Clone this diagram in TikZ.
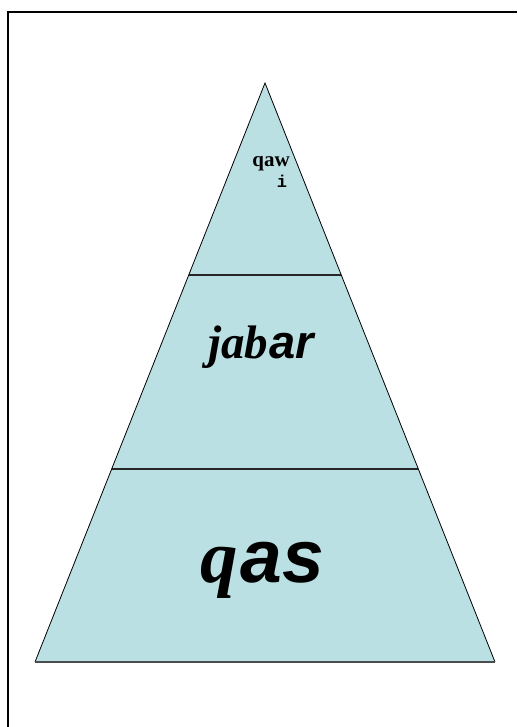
\documentclass[tikz,border=0pt]{standalone}
\usepackage{fontspec}
\setmainfont{Liberation Serif}
\newfontfamily\sansf{Liberation Sans}
\newfontfamily\monof{Liberation Mono}
\definecolor{pyr}{HTML}{BBE0E3}
\tikzset{
  frameline/.style={line width=2pt, black},
  divider/.style={line width=1.6pt, black!85},
  edge/.style={line width=0.8pt, black},
  baseedge/.style={line width=1.4pt, black!70},
  lbl/.style={anchor=base, inner sep=0pt}
}
\begin{document}
\begin{tikzpicture}[x=1pt,y=-1pt]
\useasboundingbox (0,0) rectangle (517,727);
\draw[frameline] (7.5,727) -- (7.5,12.5) -- (517,12.5);
\coordinate (A) at (265,83);
\coordinate (BL) at (35,662);
\coordinate (BR) at (495,662);
\coordinate (D1L) at (188.7,275);
\coordinate (D1R) at (341.3,275);
\coordinate (D2L) at (111.7,469);
\coordinate (D2R) at (418.3,469);
\fill[pyr] (A) -- (BL) -- (BR) -- cycle;
\draw[divider] (D1L) -- (D1R);
\draw[divider] (D2L) -- (D2R);
\draw[edge] (BL) -- (A) -- (BR);
\draw[baseedge] (BL) -- (BR);
\node[lbl, font=\fontsize{21}{21}\selectfont\bfseries] (t1) at (271,167) {qaw};
\node[lbl, font=\monof\fontsize{17}{17}\selectfont\bfseries] (t2) at (282,188) {i};
\node[lbl, font=\fontsize{47}{47}\selectfont\bfseries\itshape] (t3) at (261,358) {jab\kern1pt{\sansf ar}};
\node[lbl, font=\fontsize{75}{75}\selectfont\bfseries\itshape] (t4) at (262,582) {q\kern3pt{\sansf as}};
\end{tikzpicture}
\end{document}
